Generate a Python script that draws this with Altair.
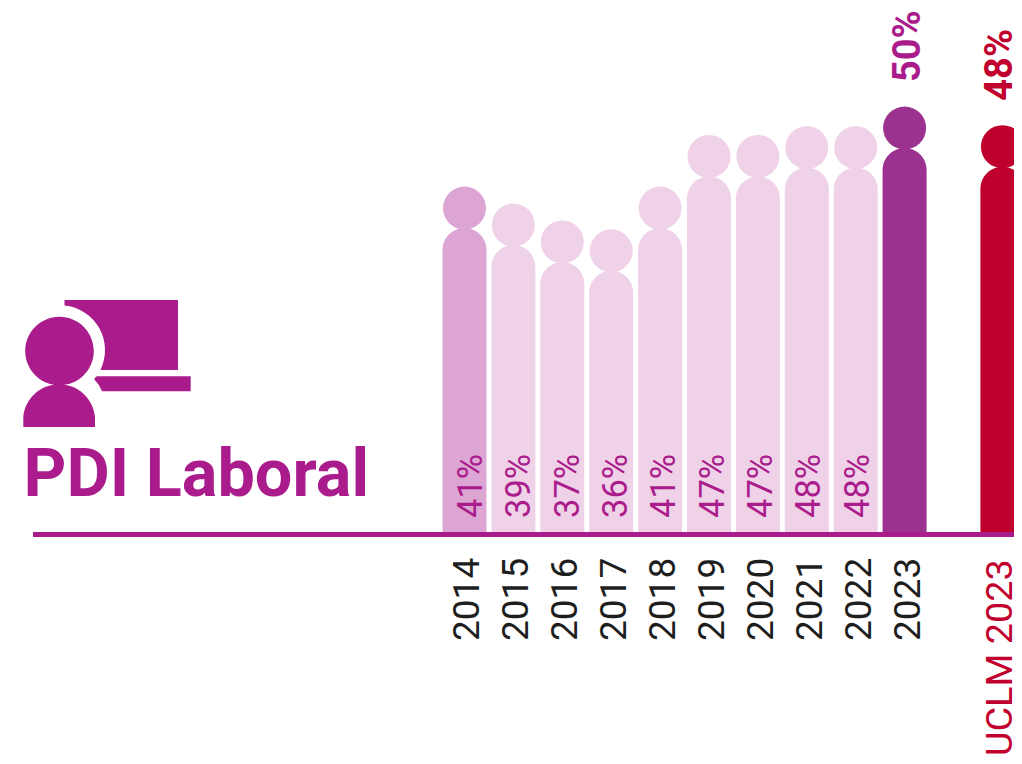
import altair as alt
import pandas as pd

years = ["2014", "2015", "2016", "2017", "2018", "2019", "2020", "2021", "2022", "2023", "UCLM 2023"]
slots = [2014, 2015, 2016, 2017, 2018, 2019, 2020, 2021, 2022, 2023, 2025]
values = [41.0, 39.1, 37.2, 36.2, 41.0, 46.8, 46.8, 47.8, 47.8, 50.0, 47.9]
labels = ["41%", "39%", "37%", "36%", "41%", "47%", "47%", "48%", "48%", "50%", "48%"]
fills = ["#DCA5D3", "#EFD2E8", "#EFD2E8", "#EFD2E8", "#EFD2E8", "#EFD2E8", "#EFD2E8", "#EFD2E8", "#EFD2E8", "#9B3290", "#BF002D"]
label_colors = ["#1E1E1E"] * 10 + ["#C1002F"]
bases = [6.85] * 11

PURPLE = "#AA1C8C"
RED = "#C1002F"

df = pd.DataFrame(dict(year=years, slot=slots, value=values, label=labels, fill=fills, lc=label_colors, base=bases))

W, H = 1006, 748
x_scale = alt.Scale(domain=[2004.665, 2025.237], nice=False, zero=False, padding=0)
x = alt.X("slot:Q", scale=x_scale, axis=None)
y = alt.Y("value:Q", scale=alt.Scale(domain=[-18.31, 65.73], nice=False, zero=False), axis=None)
fill = alt.Color("fill:N", scale=None, legend=None)

base = alt.Chart(df)
bars = base.mark_bar(size=44, cornerRadiusTopLeft=22, cornerRadiusTopRight=22, clip=True).encode(
    x=x, y=y, y2="base:Q", color=fill)
heads = base.mark_circle(size=1849, opacity=1, yOffset=-20, clip=True).encode(x=x, y=y, color=fill)
inner = base.transform_filter("datum.slot < 2023").transform_calculate(
    lx="datum.slot - (datum.slot - 2014) * 0.012"
).mark_text(
    font="Roboto", fontSize=34.5, angle=270, align="left", baseline="alphabetic", xOffset=17.5, color=PURPLE
).encode(x=alt.X("lx:Q", scale=x_scale, axis=None), y=alt.value(510), text="label:N")
top = base.transform_filter("datum.slot == 2023").mark_text(
    font="Roboto", fontSize=38, fontWeight="bold", angle=270, align="left", baseline="alphabetic", xOffset=15, yOffset=-66, color=PURPLE
).encode(x=x, y=y, text="label:N")
top_u = base.transform_filter("datum.slot == 2025").mark_text(
    font="Roboto", fontSize=38, fontWeight="bold", angle=270, align="left", baseline="alphabetic", xOffset=10, yOffset=-66, color=RED
).encode(x=x, y=y, text="label:N")
ticks = base.transform_filter("datum.slot < 2025").mark_text(
    font="Roboto", fontSize=37, angle=270, align="left", baseline="alphabetic", xOffset=15
).encode(x=x, y=alt.value(633), text="year:N", color=alt.Color("lc:N", scale=None, legend=None))
ucl = base.transform_filter("datum.slot == 2025").mark_text(
    font="Roboto", fontSize=37.8, angle=270, align="left", baseline="alphabetic", xOffset=10
).encode(x=x, y=alt.value(748), text="year:N", color=alt.value(RED))
line = alt.Chart(pd.DataFrame({"a": [0]})).mark_rule(color=PURPLE, strokeWidth=5).encode(
    x=alt.value(25), x2=alt.value(W), y=alt.value(526.5))

title = alt.Chart(pd.DataFrame({"t": ["PDI Laboral"]})).mark_text(
    font="Roboto", fontSize=66.6, fontWeight="bold", align="left", baseline="alphabetic", color=PURPLE
).encode(x=alt.value(15.5), y=alt.value(488), text="t:N")

icon_path = (
    "M56.5 292 L170 292 L170 362 L92.5 362 A45 45 0 0 0 56.5 297.5 Z "
    "M86 371 L88.7 368.3 L182.7 368.3 L182.7 383.3 L94 383.3 Q91 376 86 371 Z "
    "M17.2 343 A34.3 34.3 0 1 1 85.8 343 A34.3 34.3 0 1 1 17.2 343 Z "
    "M15.3 419 L15.3 409 A36 36 0 0 1 87 409 L87 419 Z"
)
icon = alt.Chart(pd.DataFrame({"a": [0]})).mark_point(
    shape=icon_path, size=4, filled=True, opacity=1, color=PURPLE, strokeWidth=0
).encode(x=alt.value(0), y=alt.value(0))

chart = alt.layer(
    bars, heads, line, inner, top, top_u, ticks, ucl, title, icon
).properties(width=W, height=H, padding=0, autosize=alt.AutoSizeParams(type="none"), background="white").configure_view(stroke=None)

chart.save("out.html", embed_options={"renderer": "svg", "actions": False})
